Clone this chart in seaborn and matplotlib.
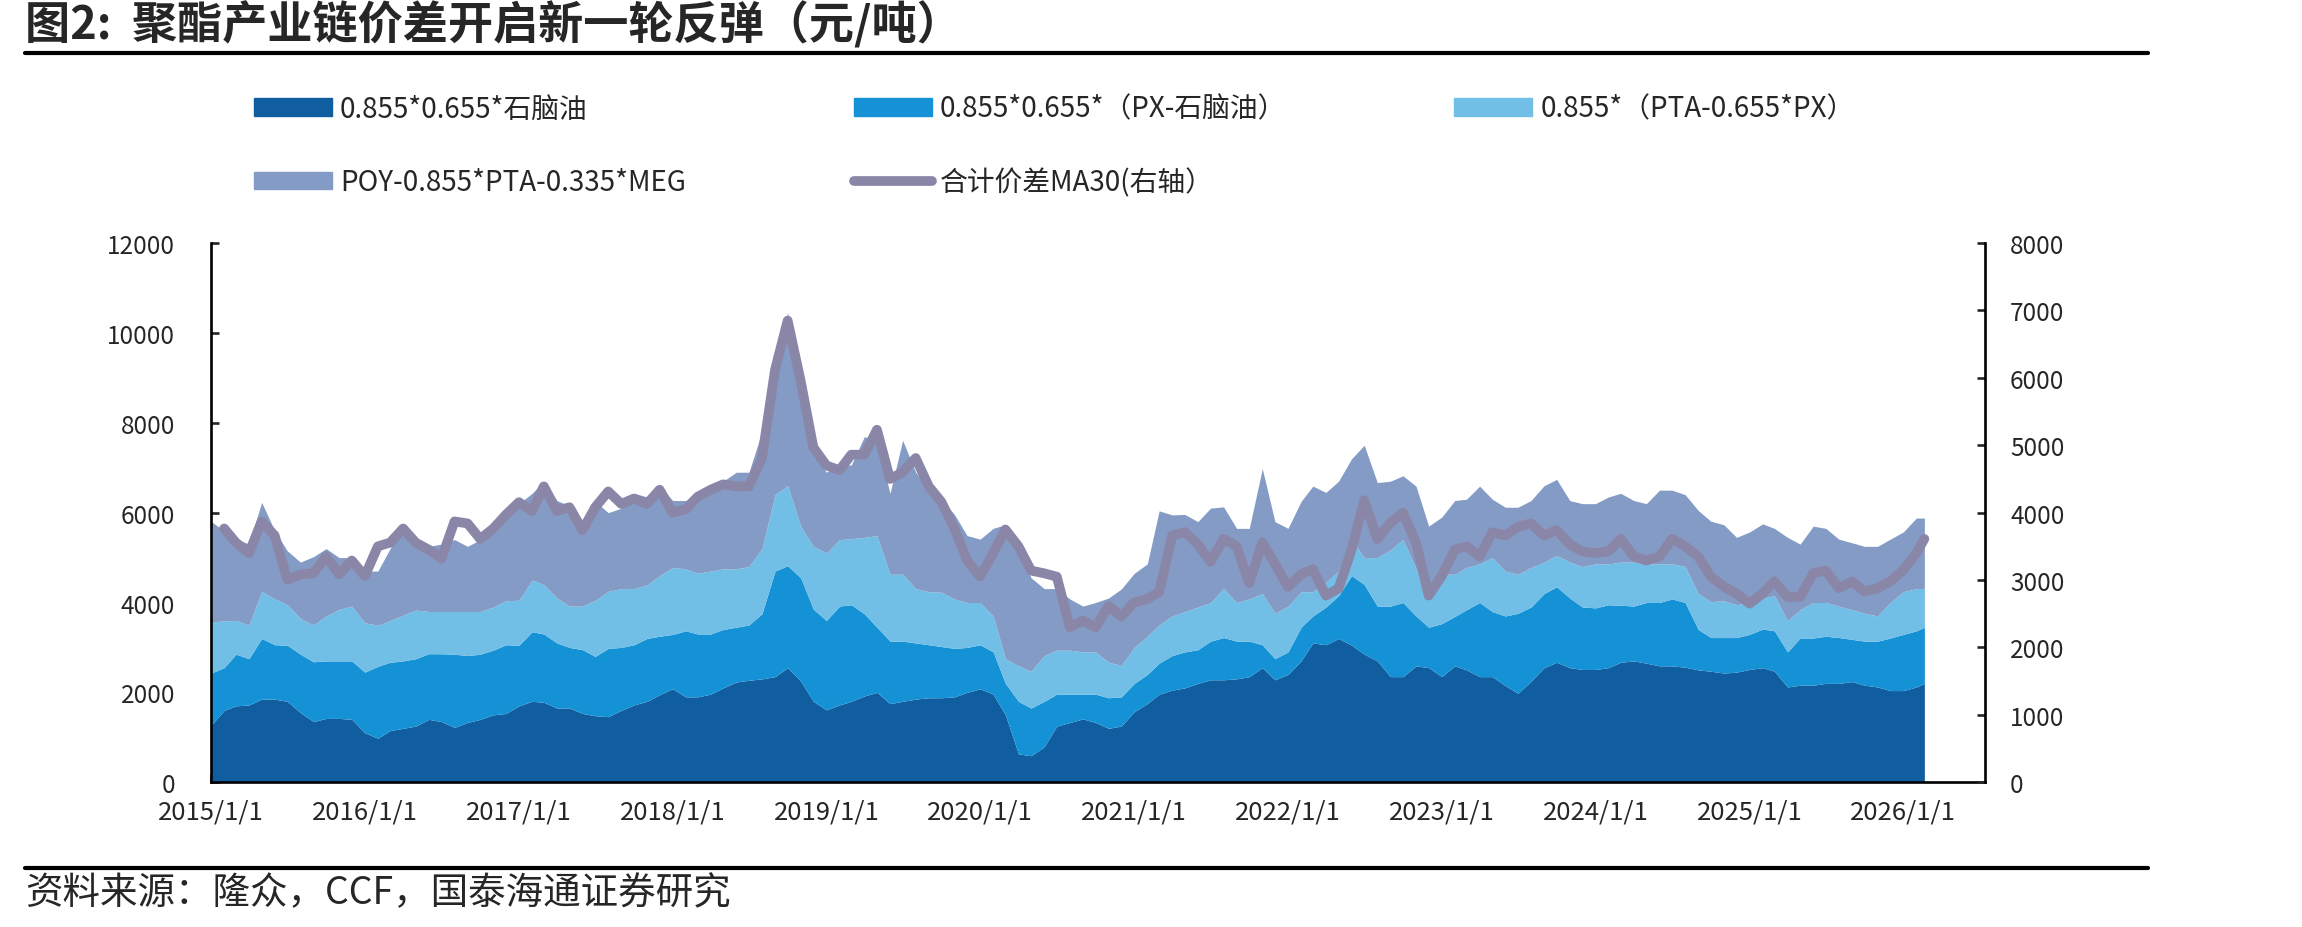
import matplotlib
matplotlib.use("Agg")
import numpy as np
import pandas as pd
import matplotlib.pyplot as plt
from matplotlib.patches import Patch
from matplotlib.lines import Line2D
from matplotlib.ticker import FuncFormatter
import seaborn as sns

# Monthly readings (first of month, 2015-01 .. 2026-02) plus the last data day
dates = pd.date_range("2015-01-01", "2026-02-01", freq="MS").append(pd.DatetimeIndex(["2026-02-20"]))

# 0.855*0.655*石脑油
naphtha = [
    1270, 1600, 1700, 1720, 1850, 1850, 1800, 1550, 1350, 1420, 1420, 1400,
    1100, 980, 1150, 1200, 1250, 1400, 1350, 1220, 1330, 1400, 1500, 1530,
    1700, 1800, 1780, 1650, 1650, 1530, 1480, 1460, 1600, 1720, 1800, 1950,
    2080, 1900, 1900, 1960, 2100, 2230, 2270, 2300, 2350, 2550, 2250, 1800,
    1610, 1720, 1800, 1920, 2000, 1750, 1800, 1850, 1880, 1880, 1900, 2000,
    2080, 1960, 1500, 630, 590, 790, 1250, 1330, 1410, 1330, 1200, 1250,
    1570, 1750, 1960, 2050, 2100, 2200, 2280, 2280, 2300, 2350, 2550, 2280,
    2400, 2700, 3100, 3060, 3200, 3050, 2850, 2700, 2350, 2350, 2590, 2550,
    2350, 2590, 2500, 2350, 2350, 2150, 1980, 2250, 2550, 2670, 2550, 2510,
    2510, 2550, 2670, 2700, 2650, 2590, 2590, 2560, 2500, 2470, 2430, 2450,
    2510, 2550, 2470, 2120, 2160, 2160, 2200, 2200, 2240, 2160, 2120, 2040,
    2040, 2120, 2200,
]
# 0.855*0.655*（PX-石脑油）
px_spread = [
    1160, 950, 1150, 1030, 1350, 1210, 1250, 1300, 1330, 1280, 1280, 1300,
    1350, 1600, 1520, 1500, 1500, 1460, 1510, 1630, 1490, 1450, 1440, 1530,
    1350, 1550, 1520, 1450, 1350, 1420, 1320, 1520, 1400, 1340, 1400, 1300,
    1210, 1470, 1400, 1340, 1300, 1220, 1230, 1450, 2350, 2270, 2300, 2050,
    1990, 2200, 2150, 1830, 1450, 1390, 1340, 1250, 1180, 1140, 1080, 1000,
    980, 940, 700, 1170, 1060, 1010, 710, 630, 550, 630, 680, 650,
    630, 650, 690, 770, 800, 750, 860, 940, 840, 790, 510, 470,
    500, 750, 600, 840, 950, 1550, 1550, 1220, 1570, 1650, 1110, 900,
    1180, 1100, 1340, 1650, 1450, 1550, 1780, 1650, 1650, 1680, 1550, 1390,
    1370, 1400, 1270, 1220, 1350, 1410, 1490, 1440, 900, 750, 790, 770,
    780, 860, 900, 780, 1050, 1050, 1050, 1020, 940, 980, 1020, 1170,
    1250, 1250, 1250,
]
# 0.855*（PTA-0.655*PX）
pta_spread = [
    1140, 1040, 750, 750, 1050, 1020, 900, 800, 820, 1000, 1150, 1220,
    1100, 910, 930, 1020, 1080, 940, 940, 950, 980, 950, 960, 980,
    1000, 1150, 1100, 1000, 920, 970, 1250, 1270, 1310, 1250, 1190, 1350,
    1490, 1380, 1350, 1400, 1350, 1300, 1300, 1450, 1700, 1780, 1150, 1400,
    1500, 1480, 1470, 1700, 2040, 1490, 1490, 1210, 1180, 1210, 1100, 1000,
    940, 800, 550, 790, 820, 1020, 980, 980, 940, 940, 790, 700,
    800, 850, 850, 880, 900, 950, 860, 1090, 860, 940, 1140, 1010,
    1020, 790, 540, 550, 550, 800, 600, 1080, 1250, 1400, 1050, 700,
    1100, 940, 940, 860, 1200, 1000, 870, 880, 700, 700, 800, 900,
    980, 910, 960, 980, 860, 860, 780, 800, 800, 800, 820, 730,
    710, 690, 780, 700, 630, 790, 750, 700, 660, 620, 560, 790,
    950, 940, 860,
]
# POY-0.855*PTA-0.335*MEG
poy_spread = [
    2230, 2010, 1820, 1800, 1980, 1520, 1200, 1250, 1520, 1500, 1150, 1080,
    1150, 1210, 1600, 1980, 1500, 1450, 1500, 1600, 1450, 1600, 1650, 2060,
    2150, 1930, 2300, 2170, 2230, 1880, 2200, 1750, 1790, 2120, 1960, 2000,
    1490, 1520, 1800, 1900, 1950, 2150, 2100, 2600, 3000, 3850, 3400, 2050,
    1800, 1660, 1640, 2240, 2110, 1800, 2980, 2590, 2260, 2070, 1880, 1490,
    1410, 1950, 2980, 2590, 2080, 1490, 1370, 1140, 1020, 1100, 1430, 1700,
    1650, 1610, 2540, 2250, 2160, 1900, 2100, 1820, 1650, 1570, 2780, 2040,
    1730, 2010, 2350, 2000, 2000, 1800, 2500, 1670, 1530, 1420, 1840, 1550,
    1270, 1640, 1520, 1730, 1300, 1420, 1490, 1490, 1700, 1690, 1370, 1400,
    1340, 1490, 1530, 1370, 1340, 1640, 1640, 1600, 1850, 1790, 1690, 1500,
    1570, 1650, 1500, 1850, 1460, 1700, 1650, 1490, 1490, 1490, 1550, 1410,
    1330, 1570, 1570,
]
# 合计价差MA30 (right axis)
ma30 = [
    np.nan, 3765, 3555, 3400, 3870, 3660, 3005, 3085, 3100, 3350, 3085, 3290,
    3060, 3500, 3555, 3765, 3555, 3450, 3320, 3870, 3840, 3610, 3765, 3970,
    4155, 4025, 4390, 4025, 4080, 3740, 4080, 4315, 4130, 4210, 4130, 4340,
    4000, 4050, 4235, 4340, 4420, 4390, 4390, 4810, 6120, 6850, 5950, 4970,
    4700, 4630, 4860, 4860, 5230, 4500, 4600, 4810, 4390, 4160, 3765, 3290,
    3050, 3400, 3750, 3500, 3140, 3100, 3050, 2300, 2400, 2300, 2615, 2460,
    2670, 2720, 2820, 3660, 3710, 3530, 3270, 3610, 3500, 2955, 3555, 3240,
    2900, 3085, 3160, 2770, 2875, 3450, 4185, 3610, 3850, 4000, 3555, 2770,
    3060, 3450, 3500, 3350, 3710, 3660, 3790, 3840, 3660, 3740, 3530, 3425,
    3400, 3425, 3610, 3350, 3290, 3350, 3610, 3500, 3350, 3050, 2900, 2800,
    2650, 2800, 2980, 2750, 2750, 3100, 3140, 2880, 2980, 2830, 2880, 2980,
    3150, 3400, 3610,
]

labels = ["0.855*0.655*石脑油", "0.855*0.655*（PX-石脑油）", "0.855*（PTA-0.655*PX）",
          "POY-0.855*PTA-0.335*MEG", "合计价差MA30(右轴）"]
colors = ["#105DA0", "#1592D5", "#71BEE6", "#849BC5"]
line_color = "#8A86A8"
year_ticks = [pd.Timestamp(f"{y}-01-01") for y in range(2015, 2027)]

sns.set_theme(style="white")
plt.rcParams["font.family"] = ["Noto Sans CJK SC", "DejaVu Sans"]

fig = plt.figure(figsize=(23.02, 9.28), dpi=100)
ax = fig.add_axes([0.0917, 0.156, 0.7706, 0.581])

ax.stackplot(dates, naphtha, px_spread, pta_spread, poy_spread, colors=colors, linewidth=0)

ax2 = ax.twinx()
line_df = pd.DataFrame({"date": dates, "ma30": ma30}).dropna()
sns.lineplot(data=line_df, x="date", y="ma30", ax=ax2, color=line_color, linewidth=7,
             solid_capstyle="round", solid_joinstyle="round", legend=False)

ax.set_xlim(pd.Timestamp("2015-01-01"), pd.Timestamp("2026-07-14"))
ax.set_ylim(0, 12000)
ax2.set_ylim(0, 8000)
ax.set_yticks(range(0, 12001, 2000))
ax2.set_yticks(range(0, 8001, 1000))
ax.set_xticks(year_ticks)
ax.xaxis.set_major_formatter(FuncFormatter(
    lambda v, p: "{0.year}/{0.month}/{0.day}".format(pd.Timestamp(matplotlib.dates.num2date(v)))))
ax.set_xlabel("")
ax.set_ylabel("")
ax2.set_xlabel("")
ax2.set_ylabel("")

for a in (ax, ax2):
    for s in a.spines.values():
        s.set_visible(False)
for s in ("left", "bottom"):
    ax.spines[s].set_visible(True)
    ax.spines[s].set_color("black")
    ax.spines[s].set_linewidth(1.9)
ax2.spines["right"].set_visible(True)
ax2.spines["right"].set_color("black")
ax2.spines["right"].set_linewidth(1.9)

ax.tick_params(axis="y", direction="in", length=6, width=1.9, labelsize=17.5, pad=26, left=True)
ax.tick_params(axis="x", direction="in", length=6, width=1.9, labelsize=18.5, pad=12, bottom=True)
ax2.tick_params(axis="y", direction="in", length=6, width=1.9, labelsize=17.5, pad=18, right=True)

# legend
handles = [Patch(color=colors[0]), Patch(color=colors[1]), Patch(color=colors[2]),
           Patch(color=colors[3]), Line2D([], [], color=line_color, lw=7, solid_capstyle="round")]
order = [0, 3, 1, 4, 2]
fig.legend([handles[i] for i in order], [labels[i] for i in order], ncol=3, frameon=False,
           loc="upper left", bbox_to_anchor=(0.1103, 0.898), borderaxespad=0, borderpad=0,
           fontsize=20, handlelength=2.8, handleheight=0.6, handletextpad=0.3,
           columnspacing=6.05, labelspacing=1.57)

# title, rules and source
fig.text(0.011, 0.972, "图2:  聚酯产业链价差开启新一轮反弹（元/吨）", fontsize=32.5,
         fontweight="bold", va="center", ha="left")
fig.add_artist(Line2D([0.011, 0.933], [0.942, 0.942], transform=fig.transFigure, color="black", lw=3))
fig.add_artist(Line2D([0.011, 0.933], [0.0636, 0.0636], transform=fig.transFigure, color="black", lw=3))
fig.text(0.011, 0.037, "资料来源：隆众，CCF，国泰海通证券研究", fontsize=27, va="center", ha="left")

fig.savefig("out.png", dpi=100)
